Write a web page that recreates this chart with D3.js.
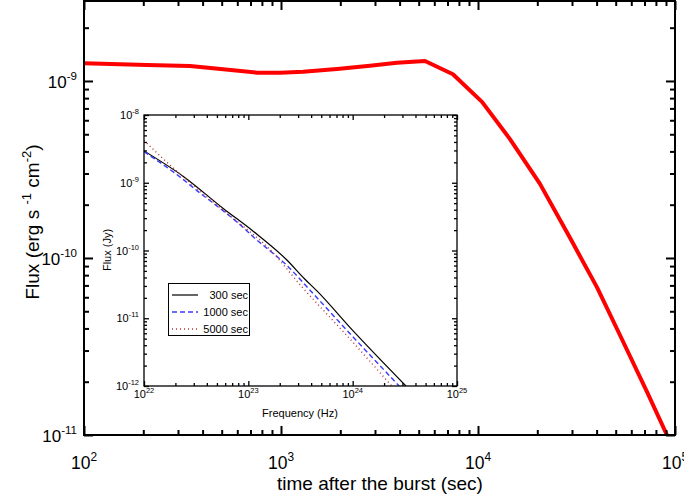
<!DOCTYPE html>
<html>
<head>
<meta charset="utf-8">
<script src="https://cdn.jsdelivr.net/npm/d3@7"></script>
<style>
body { margin: 0; background: #fff; }
text { font-family: "Liberation Sans", Arial, sans-serif; fill: #000; }
</style>
</head>
<body>
<svg id="chart" width="684" height="497"></svg>
<script>
// main light curve (time in sec, flux in erg s-1 cm-2)
var timeSec = [100, 209, 345, 452, 755, 988, 1294, 1924, 2830, 3880, 5380, 7460,
    10480, 14500, 20600, 29300, 40200, 52600, 72100, 91000];
var fluxMain = [1.259e-9, 1.230e-9, 1.216e-9, 1.180e-9, 1.114e-9, 1.114e-9, 1.127e-9, 1.169e-9,
    1.219e-9, 1.268e-9, 1.297e-9, 1.091e-9, 7.62e-10, 4.71e-10, 2.63e-10, 1.30e-10,
    6.82e-11, 3.66e-11, 1.75e-11, 1.0e-11];

// inset spectra (frequency in Hz, flux in Jy)
var nu300 = [1e22, 2.40e22, 5.75e22, 1.12e23, 2.34e23, 3.47e23, 4.57e23, 1e24, 3.24e24];
var f300 = [2.95e-9, 1.23e-9, 4.17e-10, 1.91e-10, 7.24e-11, 3.80e-11, 2.51e-11, 6.61e-12, 1e-12];
var nu1000 = [1e22, 2.24e22, 3.24e22, 5.37e22, 7.94e22, 1.12e23, 2.34e23, 3.98e23, 1e24, 2.79e24];
var f1000 = [2.88e-9, 1.20e-9, 7.59e-10, 4.17e-10, 2.57e-10, 1.58e-10, 6.03e-11, 2.51e-11, 5.37e-12, 1e-12];
var nu5000 = [1e22, 1.51e22, 2.42e22, 4.39e22, 7.94e22, 1.55e23, 3.24e23, 1e24, 2.37e24];
var f5000 = [4.22e-9, 2.29e-9, 1.20e-9, 5.56e-10, 2.63e-10, 1.10e-10, 2.95e-11, 4.47e-12, 1e-12];

var seriesNames = ["300 sec", "1000 sec", "5000 sec"];
var seriesColors = ["#000000", "#3a3aff", "#b83030"];
var seriesDash = [null, "5,3", "1,3"];

var mainXTicks = [1e2, 1e3, 1e4, 1e5];
var mainYTicks = [1e-11, 1e-10, 1e-9];
var insetXTicks = [1e22, 1e23, 1e24, 1e25];
var insetYTicks = [1e-12, 1e-11, 1e-10, 1e-9, 1e-8];

var svg = d3.select("#chart");

function isMajor(v) {
    var l = Math.log10(v);
    return Math.abs(l - Math.round(l)) < 1e-6;
}

// ticks inward on all four sides
function addTicks(g, x, y, majLen, minLen, sw) {
    var xr = x.range(), yr = y.range();
    var xMin = x.ticks().filter(v => !isMajor(v));
    var yMin = y.ticks().filter(v => !isMajor(v));
    var xMaj = x.ticks().filter(isMajor);
    var yMaj = y.ticks().filter(isMajor);
    var defs = [
        [d3.axisBottom, x, xMaj, majLen, "translate(0," + yr[0] + ")"],
        [d3.axisBottom, x, xMin, minLen, "translate(0," + yr[0] + ")"],
        [d3.axisTop, x, xMaj, majLen, "translate(0," + yr[1] + ")"],
        [d3.axisTop, x, xMin, minLen, "translate(0," + yr[1] + ")"],
        [d3.axisLeft, y, yMaj, majLen, "translate(" + xr[0] + ",0)"],
        [d3.axisLeft, y, yMin, minLen, "translate(" + xr[0] + ",0)"],
        [d3.axisRight, y, yMaj, majLen, "translate(" + xr[1] + ",0)"],
        [d3.axisRight, y, yMin, minLen, "translate(" + xr[1] + ",0)"]
    ];
    defs.forEach(function (d) {
        var ax = g.append("g").attr("transform", d[4])
            .call(d[0](d[1]).tickValues(d[2]).tickSize(-d[3]).tickFormat(""));
        ax.select(".domain").remove();
        ax.selectAll("line").attr("stroke", "#000").attr("stroke-width", sw);
    });
    g.append("rect")
        .attr("x", xr[0]).attr("y", yr[1])
        .attr("width", xr[1] - xr[0]).attr("height", yr[0] - yr[1])
        .attr("fill", "none").attr("stroke", "#000").attr("stroke-width", sw);
}

function powLabel(g, px, py, v, size, anchor) {
    var t = g.append("text").attr("x", px).attr("y", py)
        .attr("text-anchor", anchor).style("font-size", size + "px");
    t.append("tspan").text("10");
    t.append("tspan").attr("dy", -0.45 * size).style("font-size", (size * 0.68) + "px")
        .text(Math.round(Math.log10(v)));
}

// ---------- main plot ----------
var X = d3.scaleLog().domain([1e2, 1e5]).range([84, 675]);
var Y = d3.scaleLog().domain([1e-11, 2.83e-9]).range([435, 1]);

var main = svg.append("g");
svg.append("clipPath").attr("id", "clipMain").append("rect")
    .attr("x", 84).attr("y", 1).attr("width", 591).attr("height", 434);

main.append("path")
    .datum(timeSec.map((t, i) => [t, fluxMain[i]]))
    .attr("clip-path", "url(#clipMain)")
    .attr("fill", "none").attr("stroke", "#ff0000").attr("stroke-width", 4)
    .attr("stroke-linejoin", "round")
    .attr("d", d3.line().x(d => X(d[0])).y(d => Y(d[1])));

addTicks(main, X, Y, 9, 5, 2);

mainXTicks.forEach(function (v) { powLabel(main, X(v), 469, v, 17.5, "middle"); });
mainYTicks.forEach(function (v) { powLabel(main, 77, Y(v) + 7, v, 17, "end"); });

main.append("text").attr("x", 380).attr("y", 490).attr("text-anchor", "middle")
    .style("font-size", "19px").text("time after the burst (sec)");

var yt = main.append("text").attr("transform", "translate(39,222) rotate(-90)")
    .attr("text-anchor", "middle").style("font-size", "19px");
yt.append("tspan").text("Flux (erg s ");
yt.append("tspan").attr("dy", -8).style("font-size", "13px").text("-1");
yt.append("tspan").attr("dy", 8).text(" cm");
yt.append("tspan").attr("dy", -8).style("font-size", "13px").text("-2");
yt.append("tspan").attr("dy", 8).text(")");

// ---------- inset ----------
var iX = d3.scaleLog().domain([1e22, 1e25]).range([144, 457]);
var iY = d3.scaleLog().domain([1e-12, 1e-8]).range([386, 115]);
var inset = svg.append("g");

inset.append("rect").attr("x", 144).attr("y", 115).attr("width", 313).attr("height", 271)
    .attr("fill", "#fff");

svg.append("clipPath").attr("id", "clipInset").append("rect")
    .attr("x", 144).attr("y", 115).attr("width", 313).attr("height", 271);

var spectra = [[nu300, f300], [nu1000, f1000], [nu5000, f5000]];
var iLine = d3.line().curve(d3.curveMonotoneX).x(d => iX(d[0])).y(d => iY(d[1]));
spectra.forEach(function (s, k) {
    inset.append("path")
        .datum(s[0].map((n, i) => [n, s[1][i]]))
        .attr("clip-path", "url(#clipInset)")
        .attr("fill", "none")
        .attr("stroke", seriesColors[k])
        .attr("stroke-width", k == 0 ? 1.2 : 1.4)
        .attr("stroke-dasharray", seriesDash[k])
        .attr("d", iLine);
});

addTicks(inset, iX, iY, 5, 3, 1.3);

insetXTicks.forEach(function (v) { powLabel(inset, iX(v), 398, v, 11, "middle"); });
insetYTicks.forEach(function (v) { powLabel(inset, 139, iY(v) + 4, v, 11, "end"); });

inset.append("text").attr("x", 300).attr("y", 417).attr("text-anchor", "middle")
    .style("font-size", "11px").text("Frequency (Hz)");
inset.append("text").attr("transform", "translate(111,250) rotate(-90)")
    .attr("text-anchor", "middle").style("font-size", "11px").text("Flux (Jy)");

// legend
var leg = inset.append("g");
leg.append("rect").attr("x", 168.5).attr("y", 283.5).attr("width", 81).attr("height", 52)
    .attr("fill", "#fff").attr("stroke", "#000").attr("stroke-width", 1);
seriesNames.forEach(function (name, k) {
    var ly = 295 + k * 17;
    leg.append("line").attr("x1", 172).attr("x2", 198).attr("y1", ly).attr("y2", ly)
        .attr("stroke", seriesColors[k]).attr("stroke-width", k == 0 ? 1.2 : 1.4)
        .attr("stroke-dasharray", seriesDash[k]);
    leg.append("text").attr("x", 248).attr("y", ly + 4).attr("text-anchor", "end")
        .style("font-size", "11px").text(name);
});
</script>
</body>
</html>
